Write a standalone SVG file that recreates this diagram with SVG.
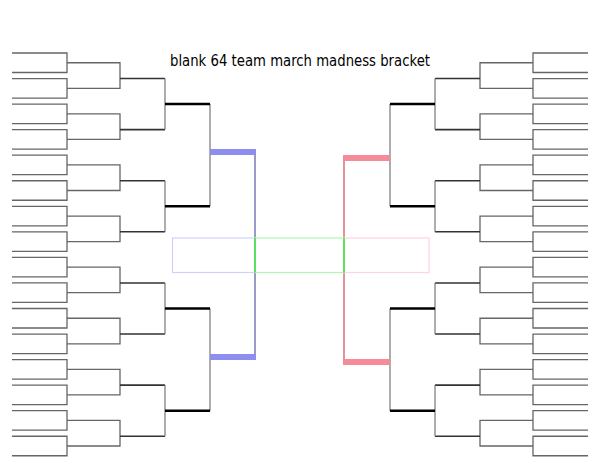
<svg xmlns="http://www.w3.org/2000/svg" xmlns:xlink="http://www.w3.org/1999/xlink" width="600" height="464" viewBox="0 0 600 464">
<style>
.r1{fill:none;stroke:#666;stroke-width:1.3}
.r3{fill:none;stroke:#333;stroke-width:1.6}
.r4{fill:none;stroke:#000;stroke-width:2.6}
.v{fill:none;stroke:#777;stroke-width:1.2}
.t{font-family:"Comic Sans MS","DejaVu Sans",sans-serif;font-size:15px;fill:#000}
</style>
<rect width="600" height="464" fill="#fff"/>
<defs>
<g id="half">
<path class="r1" d="M12 53H67V72.5H12M12 78.55H67V98.05H12M12 104.1H67V123.6H12M12 129.65H67V149.15H12M12 155.2H67V174.7H12M12 180.75H67V200.25H12M12 206.3H67V225.8H12M12 231.85H67V251.35H12M12 257.4H67V276.9H12M12 282.95H67V302.45H12M12 308.5H67V328H12M12 334.05H67V353.55H12M12 359.6H67V379.1H12M12 385.15H67V404.65H12M12 410.7H67V430.2H12M12 436.25H67V455.75H12"/>
<path class="r1" d="M67 62.75H120V88.3H67M67 113.85H120V139.4H67M67 164.95H120V190.5H67M67 216.05H120V241.6H67M67 267.15H120V292.7H67M67 318.25H120V343.8H67M67 369.35H120V394.9H67M67 420.45H120V446H67"/>
<path class="r3" d="M120 78.5H165M120 129.6H165M120 180.7H165M120 231.8H165M120 283H165M120 334H165M120 385.1H165M120 436.2H165"/>
<path class="v" d="M165 78.5V129.6M165 180.7V231.8M165 283V334M165 385.1V436.2M210 104V206.3M210 308.5V410.7"/>
<path class="r4" d="M165 104H210M165 206.3H210M165 308.5H210M165 410.7H210"/>
</g>
</defs>
<g id="left-bracket"><use xlink:href="#half"/></g>
<g id="right-bracket"><use xlink:href="#half" transform="translate(600,0) scale(-1,1)"/></g>
<g id="connectors">
<path d="M255 152V357" stroke="#7777bb" stroke-width="1.5" fill="none"/>
<path d="M344 157.5V362" stroke="#e08890" stroke-width="1.8" fill="none"/>
</g>
<g id="left-semi">
<rect x="210" y="149" width="46" height="6" fill="#8e8ef0"/>
<rect x="210" y="354" width="46" height="6" fill="#8e8ef0"/>
</g>
<g id="right-semi">
<rect x="343" y="155" width="47" height="6" fill="#f58a98"/>
<rect x="343" y="359" width="47" height="6" fill="#f58a98"/>
</g>
<g id="final">
<rect x="172.5" y="238" width="82.5" height="34.5" fill="none" stroke="#d0d0ff" stroke-width="1.2"/>
<rect x="344" y="238" width="85" height="34.5" fill="none" stroke="#ffd4dc" stroke-width="1.2"/>
<rect x="255" y="238" width="89" height="34.5" fill="none" stroke="#b0f5b0" stroke-width="1.2"/>
<path d="M255 238V272.5M344 238V272.5" stroke="#40e040" stroke-width="1.5"/>
</g>
<g id="title"><text class="t" x="300" y="66" text-anchor="middle" textLength="260" lengthAdjust="spacingAndGlyphs">blank 64 team march madness bracket</text></g>
</svg>
